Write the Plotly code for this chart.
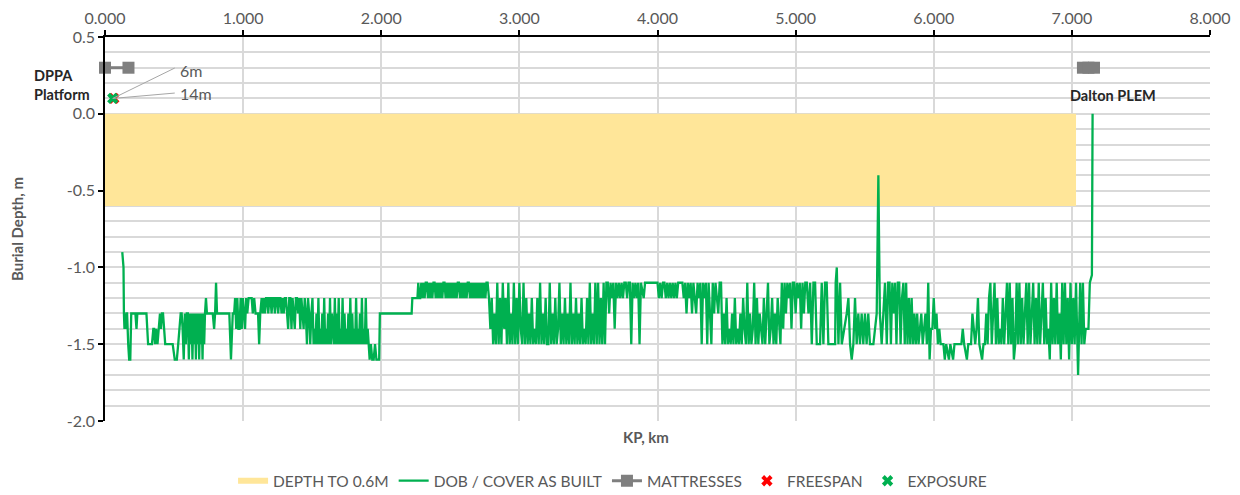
import plotly.graph_objects as go

# ---- burial profile: KP (km) and depth of burial / cover (m) ----
kp = [
    0.125, 0.130, 0.134, 0.137, 0.141, 0.145, 0.150, 0.155, 0.160, 0.168,
    0.175, 0.183, 0.190, 0.197, 0.205, 0.220, 0.228, 0.234, 0.240, 0.300,
    0.312, 0.325, 0.340, 0.350, 0.356, 0.362, 0.370, 0.380, 0.390, 0.398,
    0.405, 0.412, 0.420, 0.428, 0.436, 0.445, 0.455, 0.470, 0.490, 0.505,
    0.520, 0.530, 0.540, 0.548, 0.555, 0.562, 0.570, 0.578, 0.585, 0.592,
    0.600, 0.607, 0.614, 0.620, 0.627, 0.633, 0.640, 0.646, 0.652, 0.658,
    0.664, 0.670, 0.676, 0.682, 0.688, 0.694, 0.700, 0.706, 0.712, 0.718,
    0.724, 0.731, 0.738, 0.750, 0.765, 0.780, 0.790, 0.797, 0.804, 0.811,
    0.840, 0.870, 0.900, 0.912, 0.925, 0.935, 0.942, 0.950, 0.958, 0.966,
    0.974, 0.982, 0.990, 0.998, 1.006, 1.014, 1.022, 1.030, 1.040, 1.050,
    1.062, 1.070, 1.080, 1.090, 1.100, 1.108, 1.116, 1.124, 1.134, 1.142,
    1.150, 1.158, 1.166, 1.174, 1.182, 1.190, 1.198, 1.206, 1.214, 1.222,
    1.230, 1.238, 1.246, 1.254, 1.262, 1.270, 1.278, 1.286, 1.294, 1.302,
    1.310, 1.318, 1.326, 1.334, 1.342, 1.350, 1.358, 1.366, 1.374, 1.382,
    1.390, 1.398, 1.406, 1.414, 1.422, 1.430, 1.438, 1.446, 1.454, 1.462,
    1.470, 1.478, 1.486, 1.494, 1.502, 1.510, 1.517, 1.524, 1.531, 1.538,
    1.545, 1.552, 1.559, 1.566, 1.573, 1.580, 1.587, 1.594, 1.601, 1.608,
    1.615, 1.622, 1.629, 1.636, 1.643, 1.650, 1.657, 1.664, 1.671, 1.678,
    1.685, 1.692, 1.699, 1.706, 1.713, 1.720, 1.727, 1.734, 1.741, 1.748,
    1.755, 1.762, 1.769, 1.776, 1.783, 1.790, 1.797, 1.804, 1.811, 1.818,
    1.825, 1.832, 1.839, 1.846, 1.853, 1.860, 1.867, 1.874, 1.881, 1.888,
    1.895, 1.902, 1.909, 1.916, 1.925, 1.935, 1.945, 1.955, 1.965, 1.975,
    1.985, 1.990, 2.220, 2.225, 2.262, 2.268,
    2.275, 2.282, 2.290, 2.298, 2.306, 2.314, 2.322, 2.330, 2.338, 2.346,
    2.354, 2.362, 2.370, 2.378, 2.386, 2.394, 2.402, 2.410, 2.418, 2.426,
    2.434, 2.442, 2.450, 2.458, 2.466, 2.474, 2.482, 2.490, 2.498, 2.506,
    2.514, 2.522, 2.530, 2.538, 2.546, 2.554, 2.562, 2.570, 2.578, 2.586,
    2.594, 2.602, 2.610, 2.618, 2.626, 2.634, 2.642, 2.650, 2.658, 2.666,
    2.674, 2.682, 2.690, 2.698, 2.706, 2.714, 2.722, 2.730, 2.738, 2.746,
    2.754, 2.762, 2.770,
    2.78, 2.79, 2.80, 2.81, 2.82, 2.83, 2.84, 2.85, 2.86, 2.87,
    2.88, 2.89, 2.90, 2.91, 2.92, 2.93, 2.94, 2.95, 2.96, 2.97,
    2.98, 2.99, 3.00, 3.01, 3.02, 3.03, 3.04, 3.05, 3.06, 3.07,
    3.08, 3.09, 3.10, 3.11, 3.12, 3.13, 3.14, 3.15, 3.16, 3.17,
    3.18, 3.19, 3.20, 3.21, 3.22, 3.23, 3.24, 3.25, 3.26, 3.27,
    3.28, 3.29, 3.30, 3.31, 3.32, 3.33, 3.34, 3.35, 3.36, 3.37,
    3.38, 3.39, 3.40, 3.41, 3.42, 3.43, 3.44, 3.45, 3.46, 3.47,
    3.48, 3.49, 3.50, 3.51, 3.52, 3.53, 3.54, 3.55, 3.56, 3.57,
    3.58, 3.59, 3.60, 3.61, 3.62, 3.63,
    3.64, 3.65, 3.66, 3.67, 3.68, 3.69, 3.70, 3.71, 3.72, 3.73,
    3.74, 3.75, 3.76, 3.77, 3.78, 3.79, 3.80, 3.81, 3.82, 3.83,
    3.84, 3.85, 3.86, 3.87, 3.88, 3.90, 3.91, 4.00,
    4.01, 4.02, 4.03, 4.04, 4.05, 4.06, 4.07, 4.08, 4.09, 4.10,
    4.11, 4.12, 4.13, 4.14, 4.15, 4.18,
    4.19, 4.20, 4.21, 4.22, 4.23, 4.24, 4.25, 4.26, 4.27, 4.28,
    4.29, 4.30, 4.31, 4.32, 4.33, 4.34, 4.35, 4.36, 4.37, 4.38,
    4.39, 4.40, 4.41, 4.42, 4.43, 4.44, 4.45,
    4.46, 4.47, 4.48, 4.49, 4.50, 4.51, 4.52, 4.53, 4.54, 4.55,
    4.56, 4.57, 4.58, 4.59, 4.60, 4.61, 4.62, 4.63, 4.64, 4.65,
    4.66, 4.67, 4.68, 4.69, 4.70, 4.71, 4.72, 4.73, 4.74, 4.75,
    4.76, 4.77, 4.78, 4.79, 4.80, 4.81, 4.82, 4.83, 4.84, 4.85,
    4.86, 4.87, 4.88, 4.89, 4.90, 4.91,
    4.92, 4.93, 4.94, 4.95, 4.96, 4.97, 4.98, 4.99, 5.00, 5.01,
    5.02, 5.03, 5.04, 5.05, 5.06, 5.07,
    5.081, 5.093, 5.105, 5.117, 5.129, 5.141, 5.153, 5.177, 5.189, 5.201,
    5.213, 5.225, 5.237, 5.286, 5.290, 5.298, 5.310, 5.322, 5.334, 5.370,
    5.382, 5.394, 5.406, 5.418, 5.430, 5.442, 5.454, 5.466, 5.478, 5.490,
    5.502, 5.514, 5.526, 5.538, 5.563, 5.575, 5.587, 5.599, 5.610, 5.623,
    5.647, 5.66, 5.67, 5.68, 5.69, 5.70, 5.71, 5.72, 5.73, 5.74,
    5.75, 5.76, 5.77, 5.78, 5.79, 5.80, 5.81, 5.82, 5.83, 5.84,
    5.85, 5.86, 5.87, 5.88, 5.89, 5.90, 5.91, 5.92, 5.93, 5.94,
    5.95, 5.96, 5.97,
    5.98, 5.99, 6.00, 6.01, 6.02, 6.03, 6.04, 6.05, 6.07, 6.08,
    6.09, 6.11, 6.12, 6.14, 6.15, 6.18, 6.20, 6.21, 6.22, 6.24,
    6.25, 6.27, 6.28, 6.29, 6.30, 6.31, 6.32, 6.33, 6.35, 6.36,
    6.37, 6.38, 6.39, 6.40, 6.41, 6.42, 6.43, 6.44, 6.45, 6.46,
    6.47, 6.48, 6.49, 6.50, 6.51, 6.52, 6.53, 6.54, 6.55, 6.56,
    6.57, 6.58, 6.59, 6.60, 6.61, 6.62, 6.63, 6.64, 6.65, 6.66,
    6.67, 6.68, 6.69, 6.70, 6.71, 6.72, 6.73, 6.74, 6.75, 6.76,
    6.77, 6.78, 6.79, 6.80, 6.81, 6.82, 6.83, 6.84, 6.85, 6.86,
    6.87, 6.88, 6.89, 6.90, 6.91, 6.92, 6.93, 6.94, 6.95, 6.96,
    6.97, 6.98, 6.99, 7.00, 7.01, 7.02, 7.03, 7.04, 7.045, 7.05,
    7.06, 7.07, 7.08, 7.09, 7.10, 7.11, 7.12, 7.13, 7.145, 7.15,
]
dob = [
    -0.9, -1.0, -1.0, -1.3, -1.4, -1.3, -1.4, -1.3, -1.3, -1.5,
    -1.6, -1.6, -1.3, -1.3, -1.3, -1.3, -1.4, -1.3, -1.3, -1.3,
    -1.5, -1.5, -1.5, -1.4, -1.4, -1.5, -1.4, -1.5, -1.4, -1.3,
    -1.4, -1.3, -1.3, -1.4, -1.5, -1.5, -1.5, -1.5, -1.5, -1.6,
    -1.6, -1.5, -1.4, -1.3, -1.3, -1.4, -1.6, -1.3, -1.5, -1.3,
    -1.3, -1.6, -1.3, -1.5, -1.3, -1.6, -1.3, -1.5, -1.3, -1.6,
    -1.3, -1.5, -1.3, -1.6, -1.3, -1.5, -1.3, -1.6, -1.3, -1.5,
    -1.3, -1.2, -1.3, -1.3, -1.3, -1.3, -1.4, -1.3, -1.1, -1.3,
    -1.3, -1.3, -1.3, -1.6, -1.3, -1.3, -1.2, -1.4, -1.2, -1.4,
    -1.4, -1.2, -1.4, -1.2, -1.3, -1.4, -1.2, -1.3, -1.2, -1.2,
    -1.2, -1.3, -1.2, -1.3, -1.3, -1.3, -1.5, -1.3, -1.2, -1.3,
    -1.2, -1.3, -1.2, -1.2, -1.3, -1.2, -1.2, -1.3, -1.2, -1.2,
    -1.3, -1.2, -1.2, -1.3, -1.2, -1.2, -1.3, -1.2, -1.3, -1.2,
    -1.2, -1.3, -1.4, -1.2, -1.2, -1.4, -1.2, -1.3, -1.4, -1.2,
    -1.2, -1.3, -1.2, -1.4, -1.2, -1.3, -1.4, -1.2, -1.3, -1.5,
    -1.2, -1.3, -1.5, -1.3, -1.2, -1.5, -1.4, -1.5, -1.3, -1.5,
    -1.2, -1.5, -1.4, -1.5, -1.3, -1.5, -1.2, -1.5, -1.4, -1.5,
    -1.3, -1.5, -1.2, -1.5, -1.3, -1.4, -1.5, -1.2, -1.5, -1.3,
    -1.5, -1.2, -1.5, -1.4, -1.5, -1.2, -1.5, -1.3, -1.5, -1.4,
    -1.5, -1.3, -1.5, -1.2, -1.5, -1.3, -1.5, -1.4, -1.5, -1.2,
    -1.5, -1.4, -1.5, -1.3, -1.5, -1.2, -1.5, -1.4, -1.5, -1.2,
    -1.5, -1.4, -1.5, -1.6, -1.5, -1.6, -1.6, -1.5, -1.6, -1.6,
    -1.6, -1.3, -1.3, -1.2, -1.2, -1.1,
    -1.2, -1.2, -1.1, -1.2, -1.1, -1.2, -1.1, -1.1, -1.2, -1.1,
    -1.2, -1.1, -1.2, -1.1, -1.1, -1.2, -1.1, -1.2, -1.1, -1.2,
    -1.1, -1.2, -1.1, -1.1, -1.2, -1.1, -1.2, -1.1, -1.2, -1.1,
    -1.2, -1.1, -1.2, -1.1, -1.2, -1.1, -1.1, -1.2, -1.1, -1.2,
    -1.1, -1.2, -1.1, -1.2, -1.1, -1.1, -1.2, -1.1, -1.2, -1.1,
    -1.2, -1.1, -1.2, -1.1, -1.2, -1.1, -1.2, -1.1, -1.2, -1.1,
    -1.2, -1.1, -1.1,
    -1.2, -1.4, -1.2, -1.5, -1.3, -1.5, -1.1, -1.5, -1.2, -1.5,
    -1.1, -1.4, -1.2, -1.5, -1.1, -1.5, -1.3, -1.5, -1.1, -1.5,
    -1.2, -1.5, -1.1, -1.4, -1.5, -1.1, -1.5, -1.2, -1.5, -1.3,
    -1.5, -1.2, -1.5, -1.4, -1.5, -1.2, -1.5, -1.1, -1.5, -1.3,
    -1.5, -1.2, -1.5, -1.5, -1.1, -1.5, -1.3, -1.5, -1.2, -1.5,
    -1.4, -1.1, -1.5, -1.3, -1.5, -1.2, -1.5, -1.3, -1.5, -1.1,
    -1.5, -1.3, -1.5, -1.2, -1.5, -1.3, -1.5, -1.2, -1.5, -1.4,
    -1.5, -1.2, -1.5, -1.1, -1.5, -1.3, -1.5, -1.1, -1.5, -1.1,
    -1.5, -1.2, -1.5, -1.1, -1.5, -1.1,
    -1.1, -1.3, -1.1, -1.2, -1.1, -1.4, -1.1, -1.2, -1.1, -1.2,
    -1.1, -1.2, -1.1, -1.1, -1.2, -1.1, -1.1, -1.5, -1.1, -1.2,
    -1.1, -1.2, -1.1, -1.5, -1.1, -1.2, -1.1, -1.1,
    -1.2, -1.1, -1.2, -1.1, -1.1, -1.2, -1.1, -1.2, -1.1, -1.2,
    -1.1, -1.2, -1.1, -1.2, -1.1, -1.1,
    -1.2, -1.1, -1.3, -1.1, -1.2, -1.1, -1.3, -1.1, -1.2, -1.3,
    -1.1, -1.2, -1.1, -1.5, -1.1, -1.2, -1.1, -1.5, -1.1, -1.3,
    -1.5, -1.1, -1.3, -1.1, -1.2, -1.3, -1.1,
    -1.1, -1.5, -1.3, -1.5, -1.2, -1.5, -1.4, -1.5, -1.3, -1.5,
    -1.2, -1.5, -1.4, -1.5, -1.3, -1.5, -1.2, -1.4, -1.5, -1.1,
    -1.5, -1.3, -1.5, -1.4, -1.1, -1.5, -1.2, -1.5, -1.3, -1.4,
    -1.5, -1.2, -1.5, -1.3, -1.1, -1.5, -1.4, -1.2, -1.5, -1.3,
    -1.5, -1.2, -1.4, -1.5, -1.1, -1.4,
    -1.1, -1.3, -1.1, -1.2, -1.1, -1.4, -1.1, -1.1, -1.3, -1.1,
    -1.2, -1.1, -1.4, -1.1, -1.3, -1.1,
    -1.1, -1.3, -1.1, -1.5, -1.1, -1.1, -1.5, -1.5, -1.1, -1.5,
    -1.1, -1.1, -1.5, -1.5, -1.1, -1.0, -1.5, -1.1, -1.5, -1.3,
    -1.2, -1.5, -1.6, -1.5, -1.2, -1.5, -1.3, -1.5, -1.3, -1.5,
    -1.3, -1.5, -1.3, -1.5, -1.5, -1.4, -1.3, -0.4, -1.3, -1.5,
    -1.1, -1.5, -1.1, -1.1, -1.5, -1.1, -1.3, -1.1, -1.5, -1.1,
    -1.1, -1.5, -1.2, -1.1, -1.5, -1.1, -1.5, -1.2, -1.5, -1.2,
    -1.5, -1.3, -1.5, -1.3, -1.5, -1.4, -1.3, -1.5, -1.4, -1.3,
    -1.5, -1.1, -1.6,
    -1.4, -1.4, -1.2, -1.4, -1.3, -1.5, -1.4, -1.5, -1.5, -1.6,
    -1.5, -1.6, -1.5, -1.6, -1.5, -1.5, -1.5, -1.4, -1.5, -1.6,
    -1.5, -1.5, -1.3, -1.4, -1.5, -1.4, -1.2, -1.5, -1.6, -1.5,
    -1.5, -1.3, -1.5, -1.2, -1.1, -1.5, -1.3, -1.1, -1.5, -1.2,
    -1.5, -1.4, -1.5, -1.2, -1.5, -1.3, -1.1, -1.5, -1.1, -1.5,
    -1.2, -1.6, -1.5, -1.1, -1.5, -1.1, -1.5, -1.2, -1.5, -1.3,
    -1.1, -1.5, -1.1, -1.5, -1.3, -1.1, -1.5, -1.2, -1.5, -1.1,
    -1.5, -1.3, -1.1, -1.5, -1.2, -1.5, -1.4, -1.6, -1.1, -1.5,
    -1.2, -1.5, -1.1, -1.5, -1.3, -1.6, -1.1, -1.5, -1.1, -1.5,
    -1.2, -1.6, -1.1, -1.5, -1.2, -1.5, -1.1, -1.5, -1.7, -1.5,
    -1.1, -1.5, -1.1, -1.5, -1.4, -1.4, -1.4, -1.1, -1.05, 0.0,
]
assert len(kp) == len(dob)

# ---- target burial zone ----
band_kp = [0.0, 7.03, 7.03, 0.0, 0.0]
band_depth = [0.0, 0.0, -0.6, -0.6, 0.0]

# ---- mattresses (two groups, gap between them) ----
mat_kp = [0.0, 0.17, None, 7.08, 7.12, 7.16]
mat_y = [0.3, 0.3, None, 0.3, 0.3, 0.3]

# ---- freespan / exposure events ----
freespan_kp = [0.064]
freespan_y = [0.1]
exposure_kp = [0.056]
exposure_y = [0.1]

# ---- axis ticks ----
x_tick_vals = [0, 1, 2, 3, 4, 5, 6, 7, 8]
x_tick_text = ["0.000", "1.000", "2.000", "3.000", "4.000", "5.000", "6.000", "7.000", "8.000"]
y_tick_vals = [0.5, 0.0, -0.5, -1.0, -1.5, -2.0]
y_tick_text = ["0.5", "0.0", "-0.5", "-1.0", "-1.5", "-2.0"]

FONT = "Lato, 'Open Sans', sans-serif"
GREY_TXT = "#595959"
GRID = "#d9d9d9"
GREEN = "#00b050"

fig = go.Figure()

fig.add_trace(go.Scatter(
    x=band_kp, y=band_depth, mode="none", fill="toself",
    fillcolor="#ffe699", name="DEPTH TO 0.6M", hoverinfo="skip",
))
fig.add_trace(go.Scatter(
    x=kp, y=dob, mode="lines", name="DOB / COVER AS BUILT",
    line=dict(color=GREEN, width=2.3),
))
fig.add_trace(go.Scatter(
    x=mat_kp, y=mat_y, mode="lines+markers", name="MATTRESSES",
    line=dict(color="#7f7f7f", width=3), connectgaps=False, cliponaxis=False,
    marker=dict(symbol="square", size=12, color="#7f7f7f"),
))
fig.add_trace(go.Scatter(
    x=freespan_kp, y=freespan_y, mode="markers", name="FREESPAN", cliponaxis=False,
    marker=dict(symbol="x", size=10, color="#ff0000", line=dict(width=0)),
))
fig.add_trace(go.Scatter(
    x=exposure_kp, y=exposure_y, mode="markers", name="EXPOSURE", cliponaxis=False,
    marker=dict(symbol="x", size=10, color=GREEN, line=dict(width=0)),
))

# leader lines for the event labels
for ty in (0.298, 0.135):
    fig.add_shape(type="line", xref="x", yref="y",
                  x0=exposure_kp[0], y0=exposure_y[0], x1=0.505, y1=ty,
                  line=dict(color="#a6a6a6", width=1))

annots = [
    dict(x=0.53, y=0.285, text="6m", xanchor="left", yanchor="middle",
         font=dict(size=16, color=GREY_TXT)),
    dict(x=0.53, y=0.13, text="14m", xanchor="left", yanchor="middle",
         font=dict(size=16, color=GREY_TXT)),
    dict(x=0.0, y=0.19, xshift=-13, text="<b>DPPA<br>Platform</b>", xanchor="right",
         yanchor="middle", align="left", font=dict(size=14.5, color="#262626")),
    dict(x=7.30, y=0.122, text="<b>Dalton PLEM</b>", xanchor="center", yanchor="middle",
         font=dict(size=14.5, color="#262626")),
    dict(xref="paper", yref="paper", x=0.490, y=-0.013, text="<b>KP, km</b>",
         xanchor="center", yanchor="top", font=dict(size=15, color=GREY_TXT)),
]
for a in annots:
    a.setdefault("xref", "x")
    a.setdefault("yref", "y")
    a["showarrow"] = False
    fig.add_annotation(**a)

fig.update_layout(
    width=1240, height=495, autosize=False,
    margin=dict(l=105, r=30, t=37, b=74),
    paper_bgcolor="white", plot_bgcolor="white",
    font=dict(family=FONT, size=14, color=GREY_TXT),
    showlegend=True,
    legend=dict(orientation="h", xref="container", yref="container",
                x=0.494, xanchor="center", y=0.028, yanchor="middle",
                font=dict(size=15.5, color=GREY_TXT), traceorder="normal",
                itemwidth=30),
    xaxis=dict(
        side="top", range=[0, 8], tickvals=x_tick_vals, ticktext=x_tick_text,
        showline=True, linecolor="black", linewidth=1.5, mirror=False,
        ticks="outside", ticklen=5, tickcolor="black", tickwidth=1.5,
        showgrid=True, gridcolor=GRID, gridwidth=1.5, zeroline=False,
        automargin=False,
        tickfont=dict(size=16, color=GREY_TXT, family=FONT),
    ),
    yaxis=dict(
        range=[-2, 0.5], tickvals=y_tick_vals, ticktext=y_tick_text,
        showline=True, linecolor="black", linewidth=1.5, mirror=False,
        ticks="outside", ticklen=5, tickcolor="black", tickwidth=1.5,
        showgrid=True, gridcolor=GRID, gridwidth=1.5, zeroline=False,
        automargin=False,
        minor=dict(tick0=0, dtick=0.1, showgrid=True, gridcolor=GRID, gridwidth=1.5, ticks=""),
        tickfont=dict(size=16, color=GREY_TXT, family=FONT),
        title=dict(text="<b>Burial Depth, m</b>", font=dict(size=15, color=GREY_TXT), standoff=40),
    ),
)

fig.write_html("out.html")
